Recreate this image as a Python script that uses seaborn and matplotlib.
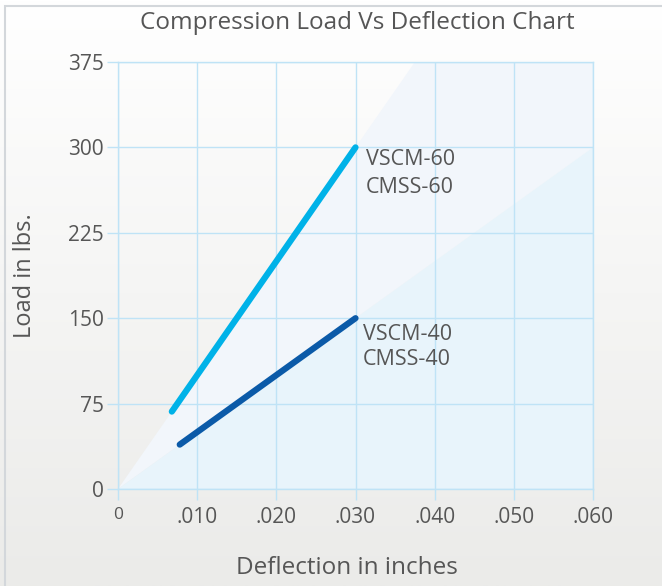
import numpy as np
import pandas as pd
import matplotlib
matplotlib.use("Agg")
import matplotlib.pyplot as plt
import matplotlib.patches as mpatches
import seaborn as sns

# Chart values
series_names = ["VSCM-60\nCMSS-60", "VSCM-40\nCMSS-40"]
deflection_60 = [0.0068, 0.030]
load_60 = [68, 300]
deflection_40 = [0.0078, 0.030]
load_40 = [39, 150]
x_ticks = [0, 0.010, 0.020, 0.030, 0.040, 0.050, 0.060]
x_tick_labels = ["0", ".010", ".020", ".030", ".040", ".050", ".060"]
y_ticks = [0, 75, 150, 225, 300, 375]
y_tick_labels = ["0", "75", "150", "225", "300", "375"]

data = pd.DataFrame({
    "Deflection": deflection_60 + deflection_40,
    "Load": load_60 + load_40,
    "Series": [series_names[0]] * len(deflection_60) + [series_names[1]] * len(deflection_40),
})

sns.set_theme(style="white")
plt.rcParams["font.family"] = ["Open Sans", "DejaVu Sans"]
text_color = "#565656"
grid_color = "#bfe3f6"
line_colors = {series_names[0]: "#00b2e8", series_names[1]: "#0b5aa8"}

fig = plt.figure(figsize=(6.62, 5.86), dpi=100)

# Background gradient for the whole figure
bg = fig.add_axes([0, 0, 1, 1], zorder=-10)
grad = np.linspace(0, 1, 256).reshape(-1, 1)
bg.imshow(grad, aspect="auto", extent=[0, 1, 0, 1],
          cmap=matplotlib.colors.LinearSegmentedColormap.from_list("bg", ["#ffffff", "#ebebe9"]))
bg.set_axis_off()
fig.patches.append(mpatches.Rectangle((5 / 662, -0.01), 1.0, 1 - 6 / 586 + 0.01,
                                      transform=fig.transFigure, fill=False,
                                      edgecolor="#d3d7db", linewidth=1.5, zorder=-5))

ax = fig.add_axes([118 / 662, 97 / 586, 475 / 662, 427 / 586])
ax.set_facecolor("none")
x_max, y_max = x_ticks[-1], y_ticks[-1]
ax.set_xlim(0, x_max)
ax.set_ylim(0, y_max)

# Light wedges behind the lines, following each line back to the origin
slope_60 = load_60[-1] / deflection_60[-1]
slope_40 = load_40[-1] / deflection_40[-1]
ax.add_patch(mpatches.Polygon([(0, 0), (y_max / slope_60, y_max), (x_max, y_max), (x_max, x_max * slope_40)],
                              closed=True, facecolor="#f2f6fb", edgecolor="none", zorder=0))
ax.add_patch(mpatches.Polygon([(0, 0), (x_max, x_max * slope_40), (x_max, 0)],
                              closed=True, facecolor="#e8f4fb", edgecolor="none", zorder=0))

sns.lineplot(data=data, x="Deflection", y="Load", hue="Series", palette=line_colors,
             linewidth=4.5, legend=False, ax=ax, zorder=3,
             solid_capstyle="round")

# Line labels
ax.text(deflection_60[-1] + 0.0013, load_60[-1] - 1, series_names[0], ha="left", va="top",
        fontsize=15.5, color=text_color, linespacing=1.45, zorder=4)
ax.text(deflection_40[-1] + 0.0009, load_40[-1] - 5, series_names[1], ha="left", va="top",
        fontsize=15.5, color=text_color, linespacing=1.28, zorder=4)

ax.set_xticks(x_ticks)
ax.set_xticklabels(x_tick_labels)
ax.set_yticks(y_ticks)
ax.set_yticklabels(y_tick_labels)
ax.tick_params(axis="both", which="both", length=8, width=1, color=grid_color,
               labelsize=15, labelcolor=text_color, left=True, bottom=True)
ax.tick_params(axis="y", pad=2)
ax.tick_params(axis="x", pad=5)
ax.get_xticklabels()[0].set_fontsize(12.5)
ax.grid(True, color=grid_color, linewidth=1)
for spine in ax.spines.values():
    spine.set_color(grid_color)
    spine.set_linewidth(1)

ax.set_xlabel("Deflection in inches", fontsize=17.5, color=text_color)
ax.set_ylabel("Load in lbs.", fontsize=17, color=text_color)
ax.xaxis.set_label_coords((347 - 118) / 475, -(568 - 489) / 427)
ax.yaxis.set_label_coords(-(118 - 25) / 475, 0.5)
ax.xaxis.label.set_va("center")
ax.yaxis.label.set_va("center")

fig.text(357 / 662, 1 - 23 / 586, "Compression Load Vs Deflection Chart",
         ha="center", va="center", fontsize=17.5, color=text_color)

fig.savefig("out.png", dpi=100)
